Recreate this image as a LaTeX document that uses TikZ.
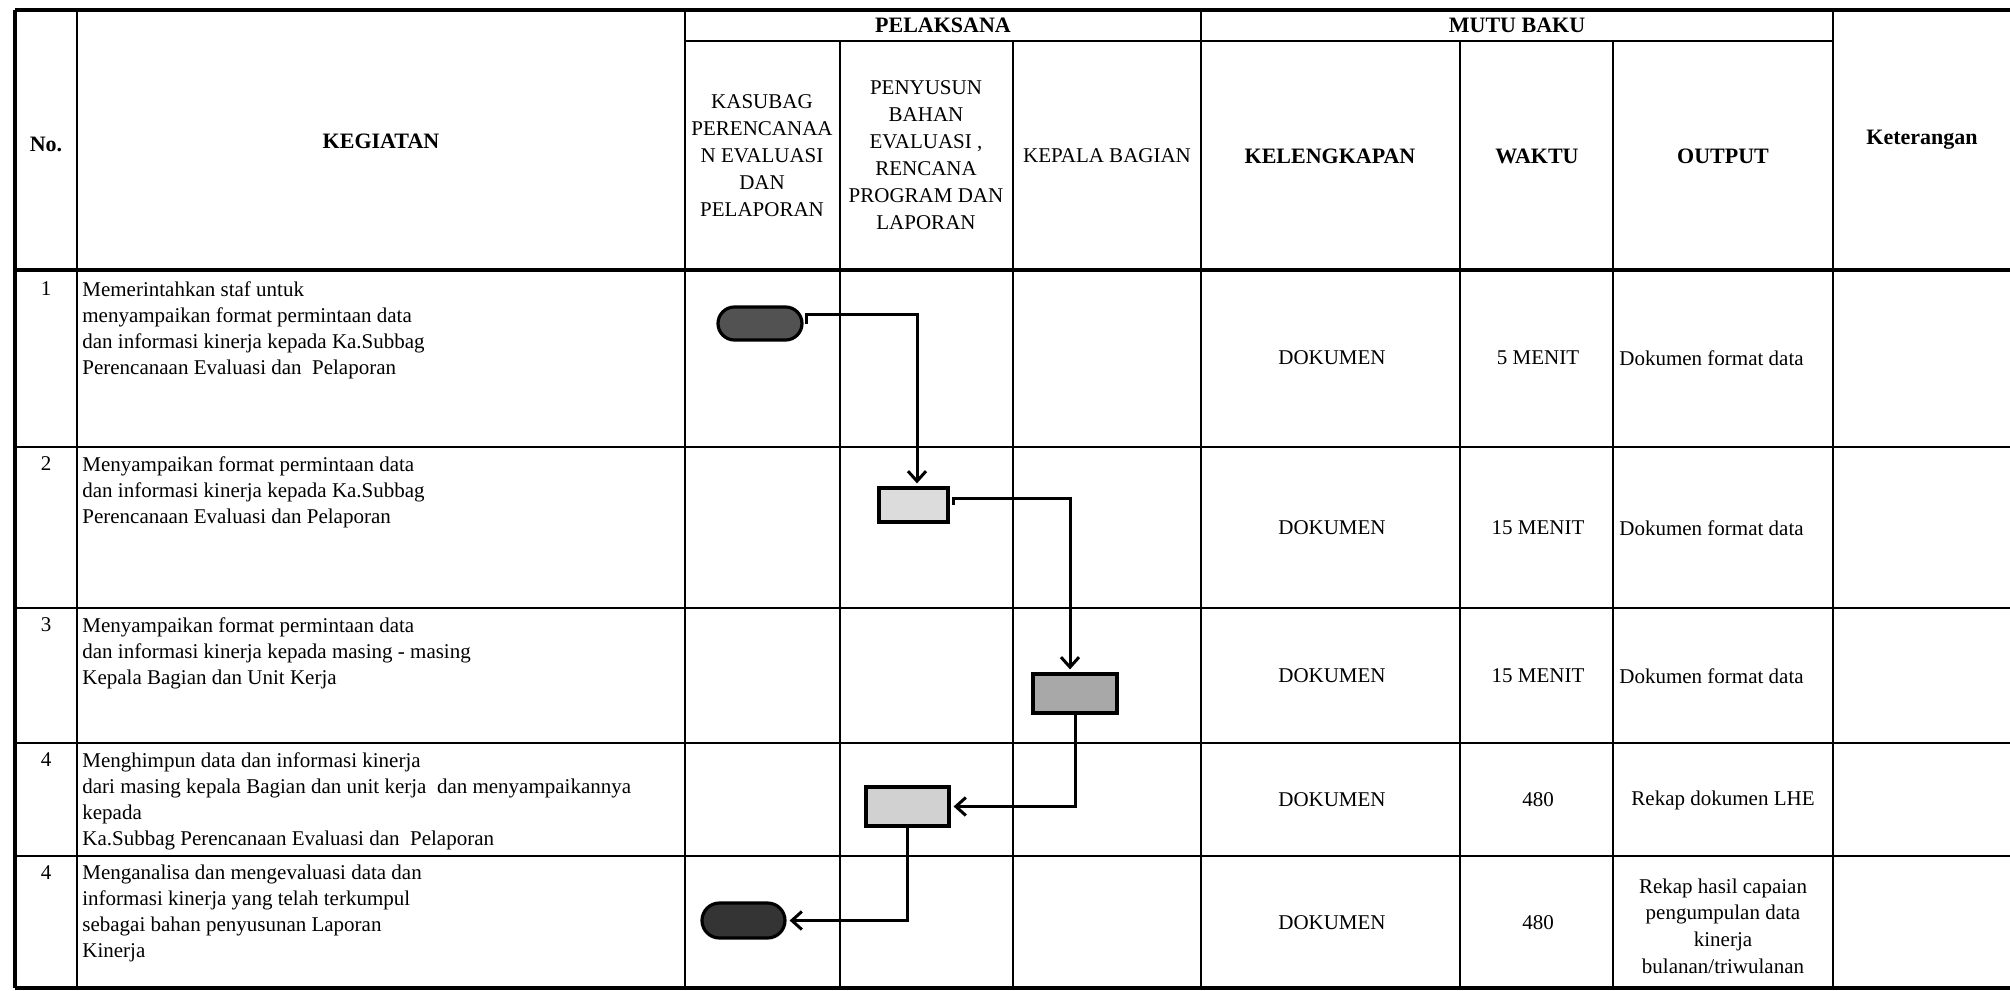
\documentclass[tikz,border=0pt]{standalone}
\usepackage{fontspec}
\setmainfont{Liberation Serif}
\usetikzlibrary{arrows.meta,shapes.misc,calc}

\definecolor{startgray}{RGB}{82,82,82}
\definecolor{stopgray}{RGB}{52,52,52}
\definecolor{lightbox}{RGB}{220,220,220}
\definecolor{midbox}{RGB}{168,168,168}

\tikzset{
  frame/.style={line width=1.8pt},
  grid/.style={line width=0.9pt},
  head/.style={font=\fontsize{11}{13.5}\selectfont\bfseries, inner sep=0pt, align=center},
  lane/.style={font=\fontsize{10.5}{13.5}\selectfont, inner sep=0pt, align=center},
  cell/.style={font=\fontsize{10.5}{13}\selectfont, inner sep=0pt, align=left},
  mid/.style={font=\fontsize{10.5}{13.3}\selectfont, inner sep=0pt, align=center},
  terminal/.style={rounded rectangle, draw, line width=1.6pt, inner sep=0pt},
  process/.style={rectangle, draw, line width=1.6pt, inner sep=0pt},
  flow/.style={line width=1.5pt, shorten >=1.5pt, -{Straight Barb[length=5pt,width=9pt,line width=1.5pt]}}
}

\begin{document}
\begin{tikzpicture}[x=0.5pt,y=0.5pt,yscale=-1,xscale=1]
\useasboundingbox (0,0) rectangle (2010,991);

%Straight Lines: frame
\draw [frame] (15,10) -- (2010,10) ;
\draw [frame] (15,270) -- (2010,270) ;
\draw [frame] (15,988) -- (2010,988) ;
\draw [frame] (15,10) -- (15,988) ;
%Straight Lines: rows
\draw [grid] (685,41) -- (1833,41) ;
\draw [grid] (15,447) -- (2010,447) ;
\draw [grid] (15,608) -- (2010,608) ;
\draw [grid] (15,743) -- (2010,743) ;
\draw [grid] (15,856) -- (2010,856) ;
%Straight Lines: columns
\draw [grid] (77,10) -- (77,988) ;
\draw [grid] (685,10) -- (685,988) ;
\draw [grid] (840,41) -- (840,988) ;
\draw [grid] (1013,41) -- (1013,988) ;
\draw [grid] (1201,10) -- (1201,988) ;
\draw [grid] (1460,41) -- (1460,988) ;
\draw [grid] (1613,41) -- (1613,988) ;
\draw [grid] (1833,10) -- (1833,988) ;

% Text Node: header
\node [head] (hNo) at (46,144) {No.};
\node [head] (hKeg) at (381,141) {KEGIATAN};
\node [head] (hPel) at (943,25) {PELAKSANA};
\node [head] (hMutu) at (1517,25) {MUTU BAKU};
\node [lane] (hKasubag) at (762,156) {KASUBAG\\PERENCANAA\\N EVALUASI\\DAN\\PELAPORAN};
\node [lane] (hPenyusun) at (926,155) {PENYUSUN\\BAHAN\\EVALUASI ,\\RENCANA\\PROGRAM DAN\\LAPORAN};
\node [lane] (hKabag) at (1107,156) {KEPALA BAGIAN};
\node [head] (hKel) at (1330,156) {KELENGKAPAN};
\node [head] (hWaktu) at (1537,156) {WAKTU};
\node [head] (hOut) at (1723,156) {OUTPUT};
\node [head] (hKet) at (1922,140) {Keterangan};

% Text Node: no.
\node [cell, anchor=north] (n1) at (46,281) {1};
\node [cell, anchor=north] (n2) at (46,456) {2};
\node [cell, anchor=north] (n3) at (46,617) {3};
\node [cell, anchor=north] (n4) at (46,752) {4};
\node [cell, anchor=north] (n5) at (46,865) {4};

% Text Node: kegiatan
\node [cell, anchor=north west] (keg1) at (82,281) {Memerintahkan staf untuk\\menyampaikan format permintaan data\\dan informasi kinerja kepada Ka.Subbag\\Perencanaan Evaluasi dan~ Pelaporan};
\node [cell, anchor=north west] (keg2) at (82,456) {Menyampaikan format permintaan data\\dan informasi kinerja kepada Ka.Subbag\\Perencanaan Evaluasi dan Pelaporan};
\node [cell, anchor=north west] (keg3) at (82,617) {Menyampaikan format permintaan data\\dan informasi kinerja kepada masing - masing\\Kepala Bagian dan Unit Kerja};
\node [cell, anchor=north west] (keg4) at (82,752) {Menghimpun data dan informasi kinerja\\dari masing kepala Bagian dan unit kerja~ dan menyampaikannya\\kepada\\Ka.Subbag Perencanaan Evaluasi dan~ Pelaporan};
\node [cell, anchor=north west] (keg5) at (82,865) {Menganalisa dan mengevaluasi data dan\\informasi kinerja yang telah terkumpul\\sebagai bahan penyusunan Laporan\\Kinerja};

% Text Node: kelengkapan
\node [mid] (kel1) at (1332,358) {DOKUMEN};
\node [mid] (kel2) at (1332,528) {DOKUMEN};
\node [mid] (kel3) at (1332,676) {DOKUMEN};
\node [mid] (kel4) at (1332,800) {DOKUMEN};
\node [mid] (kel5) at (1332,923) {DOKUMEN};

% Text Node: waktu
\node [mid] (wkt1) at (1538,358) {5 MENIT};
\node [mid] (wkt2) at (1538,528) {15 MENIT};
\node [mid] (wkt3) at (1538,676) {15 MENIT};
\node [mid] (wkt4) at (1538,800) {480};
\node [mid] (wkt5) at (1538,923) {480};

% Text Node: output
\node [cell, anchor=west] (out1) at (1619,358) {Dokumen format data};
\node [cell, anchor=west] (out2) at (1619,528) {Dokumen format data};
\node [cell, anchor=west] (out3) at (1619,676) {Dokumen format data};
\node [mid] (out4) at (1723,800) {Rekap dokumen LHE};
\node [mid] (out5) at (1723,926) {Rekap hasil capaian\\pengumpulan data\\kinerja\\bulanan/triwulanan};

%Shape: flow symbols
\node [terminal, fill=startgray, minimum width=42pt, minimum height=16.5pt] (start) at (760,323.5) {};
\node [process, fill=lightbox, minimum width=34.5pt, minimum height=17pt] (box2) at (913.5,505) {};
\node [process, fill=midbox, minimum width=42pt, minimum height=19.5pt] (box3) at (1075,693.5) {};
\node [process, fill=lightbox!95!black, minimum width=41.5pt, minimum height=19.5pt] (box4) at (907.5,806.5) {};
\node [terminal, fill=stopgray, minimum width=41.5pt, minimum height=17.5pt] (stop) at (743.5,920.5) {};

%Connectors
\coordinate (c1) at (917,314);
\coordinate (c2) at (1070,498);
\draw [flow] ([xshift=1.5pt]start.east) |- (c1) -- (c1 |- box2.north) ;
\draw [flow] ([xshift=2pt]box2.east) |- (c2) -- (c2 |- box3.north) ;
\draw [flow] (box3.south) |- (box4.east) ;
\draw [flow] (box4.south) |- (stop.east) ;

\end{tikzpicture}
\end{document}
